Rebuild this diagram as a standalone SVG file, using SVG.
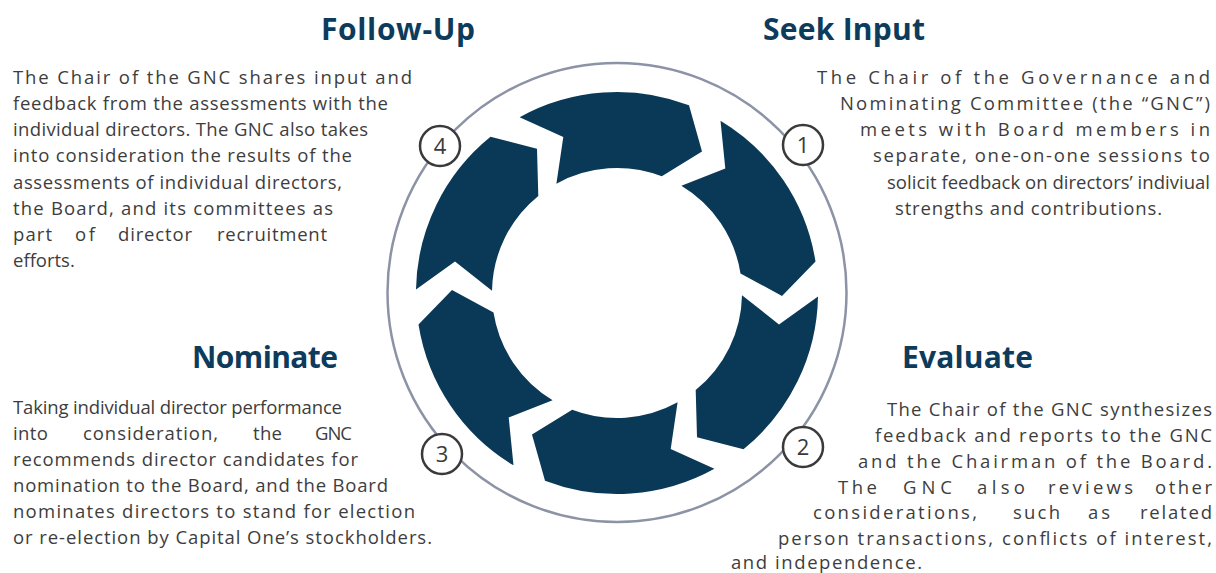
<svg xmlns="http://www.w3.org/2000/svg" width="1216" height="573" viewBox="0 0 1216 573">
<style>
.title{font-family:"Open Sans","Noto Sans","DejaVu Sans",sans-serif;font-weight:700;font-size:30px;fill:#0d3b5c}
.body{font-family:"Open Sans","Noto Sans","DejaVu Sans",sans-serif;font-size:18.5px;fill:#3d3d3d}
.arrow{fill:#0a3958}
.ring{fill:none;stroke:#8c93a6;stroke-width:2.5}
.num circle{fill:#ffffff;stroke:#3a3a3a;stroke-width:2.5}
.num text{font-family:"Open Sans","Noto Sans","DejaVu Sans",sans-serif;font-size:22px;fill:#3a3a3a;text-anchor:middle}
</style>
<rect width="1216" height="573" fill="#ffffff"/>
<g id="connectors">
<circle class="ring" cx="617" cy="292.5" r="229.5"/>
</g>
<g id="arrow-1"><path class="arrow" d="M519.6,117.2 A201,201 0 0,1 689.0,105.3 L702.0,151.6 L661.8,176.3 A125,125 0 0,0 556.4,183.7 L563.3,137.0 Z"/></g>
<g id="arrow-2"><path class="arrow" d="M720.5,120.7 A201,201 0 0,1 815.5,261.6 L782.0,295.9 L740.5,273.4 A125,125 0 0,0 681.4,185.8 L725.3,168.5 Z"/></g>
<g id="arrow-3"><path class="arrow" d="M818.0,296.5 A201,201 0 0,1 743.5,449.2 L697.0,437.3 L695.7,390.1 A125,125 0 0,0 742.0,295.2 L779.0,324.5 Z"/></g>
<g id="arrow-4"><path class="arrow" d="M714.4,468.8 A201,201 0 0,1 545.0,480.7 L532.0,434.4 L572.2,409.7 A125,125 0 0,0 677.6,402.3 L670.7,449.0 Z"/></g>
<g id="arrow-5"><path class="arrow" d="M513.5,465.3 A201,201 0 0,1 418.5,324.4 L452.0,290.1 L493.5,312.6 A125,125 0 0,0 552.6,400.2 L508.7,417.5 Z"/></g>
<g id="arrow-6"><path class="arrow" d="M416.0,289.5 A201,201 0 0,1 490.5,136.8 L537.0,148.7 L538.3,195.9 A125,125 0 0,0 492.0,290.8 L455.0,261.5 Z"/></g>

<g id="step-1" class="num"><circle cx="803" cy="145" r="20"/><text x="803" y="153">1</text></g>
<g id="step-2" class="num"><circle cx="803" cy="447" r="20"/><text x="803" y="455">2</text></g>
<g id="step-3" class="num"><circle cx="442" cy="454" r="20"/><text x="442" y="462">3</text></g>
<g id="step-4" class="num"><circle cx="440" cy="146" r="20"/><text x="440" y="154">4</text></g>

<g id="follow-up">
<text class="title" x="321" y="40" textLength="154" lengthAdjust="spacing">Follow-Up</text>
<text class="body" x="13" y="84" textLength="399" lengthAdjust="spacing">The Chair of the GNC shares input and</text>
<text class="body" x="13" y="110" textLength="375" lengthAdjust="spacing">feedback from the assessments with the</text>
<text class="body" x="13" y="136" textLength="355" lengthAdjust="spacing">individual directors. The GNC also takes</text>
<text class="body" x="13" y="162" textLength="339" lengthAdjust="spacing">into consideration the results of the</text>
<text class="body" x="13" y="189" textLength="329" lengthAdjust="spacing">assessments of individual directors,</text>
<text class="body" x="13" y="215" textLength="320" lengthAdjust="spacing">the Board, and its committees as</text>
<text class="body" y="241"><tspan x="13" textLength="39" lengthAdjust="spacing">part</tspan><tspan x="75" textLength="20" lengthAdjust="spacing">of</tspan><tspan x="118" textLength="74" lengthAdjust="spacing">director</tspan><tspan x="217" textLength="110" lengthAdjust="spacing">recruitment</tspan></text>
<text class="body" x="13" y="267">efforts.</text>
</g>

<g id="seek-input">
<text class="title" x="763" y="40" textLength="162" lengthAdjust="spacing">Seek Input</text>
<text class="body" x="817" y="84" textLength="393" lengthAdjust="spacing">The Chair of the Governance and</text>
<text class="body" x="840" y="110" textLength="370" lengthAdjust="spacing">Nominating Committee (the “GNC”)</text>
<text class="body" x="860" y="136" textLength="350" lengthAdjust="spacing">meets with Board members in</text>
<text class="body" x="873" y="162" textLength="337" lengthAdjust="spacing">separate, one-on-one sessions to</text>
<text class="body" x="887" y="189" textLength="323" lengthAdjust="spacing">solicit feedback on directors’ indiviual</text>
<text class="body" x="895" y="215" textLength="267" lengthAdjust="spacing">strengths and contributions.</text>
</g>

<g id="nominate">
<text class="title" x="192" y="368" textLength="146" lengthAdjust="spacing">Nominate</text>
<text class="body" x="13" y="414" textLength="329" lengthAdjust="spacing">Taking individual director performance</text>
<text class="body" y="440"><tspan x="13" textLength="35" lengthAdjust="spacing">into</tspan><tspan x="83" textLength="135" lengthAdjust="spacing">consideration,</tspan><tspan x="253" textLength="29" lengthAdjust="spacing">the</tspan><tspan x="315" textLength="37" lengthAdjust="spacing">GNC</tspan></text>
<text class="body" x="13" y="466" textLength="345" lengthAdjust="spacing">recommends director candidates for</text>
<text class="body" x="13" y="492" textLength="375" lengthAdjust="spacing">nomination to the Board, and the Board</text>
<text class="body" x="13" y="518" textLength="402" lengthAdjust="spacing">nominates directors to stand for election</text>
<text class="body" x="13" y="544" textLength="419" lengthAdjust="spacing">or re-election by Capital One’s stockholders.</text>
</g>

<g id="evaluate">
<text class="title" x="902" y="368" textLength="131" lengthAdjust="spacing">Evaluate</text>
<text class="body" x="887" y="416" textLength="325" lengthAdjust="spacing">The Chair of the GNC synthesizes</text>
<text class="body" x="875" y="442" textLength="337" lengthAdjust="spacing">feedback and reports to the GNC</text>
<text class="body" x="858" y="468" textLength="354" lengthAdjust="spacing">and the Chairman of the Board.</text>
<text class="body" y="494"><tspan x="838" textLength="39" lengthAdjust="spacing">The</tspan><tspan x="903" textLength="49" lengthAdjust="spacing">GNC</tspan><tspan x="977" textLength="48" lengthAdjust="spacing">also</tspan><tspan x="1048" textLength="85" lengthAdjust="spacing">reviews</tspan><tspan x="1155" textLength="57" lengthAdjust="spacing">other</tspan></text>
<text class="body" y="519"><tspan x="813" textLength="164" lengthAdjust="spacing">considerations,</tspan><tspan x="1013" textLength="47" lengthAdjust="spacing">such</tspan><tspan x="1088" textLength="22" lengthAdjust="spacing">as</tspan><tspan x="1140" textLength="72" lengthAdjust="spacing">related</tspan></text>
<text class="body" x="778" y="545" textLength="434" lengthAdjust="spacing">person transactions, conflicts of interest,</text>
<text class="body" x="731" y="569" textLength="191" lengthAdjust="spacing">and independence.</text>
</g>
</svg>
